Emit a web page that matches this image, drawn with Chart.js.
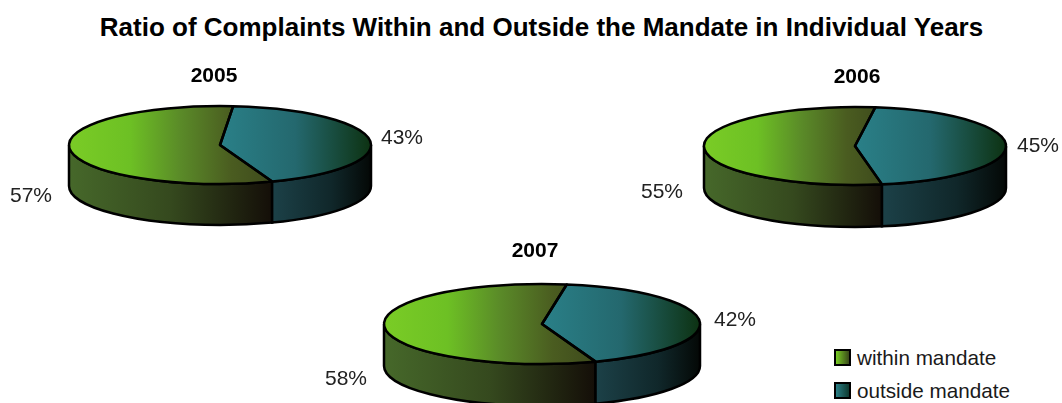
<!DOCTYPE html>
<html>
<head>
<meta charset="utf-8">
<title>Complaints within and outside the mandate</title>
<script src="https://cdn.jsdelivr.net/npm/chart.js@4/dist/chart.umd.min.js"></script>
<style>
  html, body { margin: 0; background: #fff; }
  body { position: relative; width: 1062px; height: 403px; overflow: hidden; font-family: "Liberation Sans", Arial, sans-serif; color: #000; }
  h1 { position: absolute; left: 0; top: 13px; width: 1083px; margin: 0; text-align: center; font-size: 26px; line-height: 28px; font-weight: bold; white-space: nowrap; }
  canvas { position: absolute; }
  .key { position: absolute; left: 857px; font-size: 20.7px; line-height: 24px; color: #1a1a1a; white-space: nowrap; }
  .key i { position: absolute; left: -23px; top: 3px; width: 13px; height: 13px; border: 2px solid #000; }
</style>
</head>
<body>
<h1>Ratio of Complaints Within and Outside the Mandate in Individual Years</h1>
<canvas id="pie2005" width="480" height="300"></canvas>
<canvas id="pie2006" width="480" height="300"></canvas>
<canvas id="pie2007" width="480" height="300"></canvas>
<div class="key" style="top:346px"><i style="background:linear-gradient(90deg,#78cc24,#3a4a1a)"></i>within mandate</div>
<div class="key" style="top:379px"><i style="background:linear-gradient(90deg,#2a7f86,#0e3a30)"></i>outside mandate</div>

<script>
// Data
const years = ["2005", "2006", "2007"];
const seriesNames = ["within mandate", "outside mandate"];
const withinMandate = [57, 55, 58];
const outsideMandate = [43, 45, 42];

// Pie placement on the page, all in px
const pies = [
  { cx: 220, cy: 145, rx: 151, ry: 39, depth: 41, rotation: 159.8, yearAt: [-6, -69], labelsAt: [[-189, 51], [182, -7]] },
  { cx: 855, cy: 146, rx: 151, ry: 39, depth: 42, rotation: 169.7, yearAt: [2, -69], labelsAt: [[-193, 46], [183, 0]] },
  { cx: 542, cy: 324, rx: 158, ry: 40, depth: 42, rotation: 160.2, yearAt: [-7, -73], labelsAt: [[-196, 55], [193, -4]] },
];

const CANVAS_W = 480;
const CANVAS_H = 300;

const topStops = [
  [[0, "#7acc26"], [0.3, "#6dc024"], [0.55, "#5a8a28"], [0.8, "#4a5c20"], [1, "#3e4a1c"]],
  [[0, "#2a8088"], [0.5, "#24686e"], [1, "#0d3212"]],
];
const wallStops = [
  [[0, "#46682a"], [0.5, "#35491e"], [1, "#140e08"]],
  [[0, "#1c4148"], [0.6, "#10272a"], [1, "#040806"]],
];

function makeGradient(ctx, x0, x1, stops) {
  const g = ctx.createLinearGradient(x0, 0, x1, 0);
  stops.forEach(([at, color]) => g.addColorStop(at, color));
  return g;
}

// Draws the side wall, squashes the pie faces and outlines everything afterwards
function pie3dPlugin(pie, yearIndex) {
  return {
    id: "pie3d",
    beforeDatasetsDraw(chart) {
      const ctx = chart.ctx;
      const arcs = chart.getDatasetMeta(0).data;
      const k = pie.ry / pie.rx;

      arcs.forEach((arc, i) => {
        // only the part of a slice facing the viewer has a wall
        [0, Math.PI * 2].forEach((off) => {
          const a0 = Math.max(arc.startAngle, off);
          const a1 = Math.min(arc.endAngle, off + Math.PI);
          if (a1 <= a0) return;
          const x0 = arc.x + Math.cos(a0) * pie.rx;
          const x1 = arc.x + Math.cos(a1) * pie.rx;
          ctx.beginPath();
          ctx.ellipse(arc.x, arc.y, pie.rx, pie.ry, 0, a0, a1);
          ctx.ellipse(arc.x, arc.y + pie.depth, pie.rx, pie.ry, 0, a1, a0, true);
          ctx.closePath();
          ctx.fillStyle = makeGradient(ctx, Math.min(x0, x1), Math.max(x0, x1), wallStops[i]);
          ctx.fill();
          ctx.lineWidth = 2.5;
          ctx.strokeStyle = "#000";
          ctx.stroke();
        });
      });

      ctx.save();
      ctx.translate(arcs[0].x, arcs[0].y);
      ctx.scale(1, k);
      ctx.translate(-arcs[0].x, -arcs[0].y);
    },
    afterDatasetsDraw(chart) {
      const ctx = chart.ctx;
      ctx.restore();

      chart.getDatasetMeta(0).data.forEach((arc) => {
        ctx.beginPath();
        ctx.moveTo(arc.x, arc.y);
        ctx.ellipse(arc.x, arc.y, pie.rx, pie.ry, 0, arc.startAngle, arc.endAngle);
        ctx.closePath();
        ctx.lineWidth = 2.5;
        ctx.lineJoin = "round";
        ctx.strokeStyle = "#000";
        ctx.stroke();
      });

      const cx = CANVAS_W / 2;
      const cy = CANVAS_H / 2;
      ctx.textAlign = "center";
      ctx.textBaseline = "middle";
      ctx.fillStyle = "#000";
      ctx.font = 'bold 21px "Liberation Sans", Arial, sans-serif';
      ctx.fillText(years[yearIndex], cx + pie.yearAt[0], cy + pie.yearAt[1]);

      ctx.fillStyle = "#222";
      ctx.font = '21px "Liberation Sans", Arial, sans-serif';
      chart.data.datasets[0].data.forEach((value, i) => {
        const [dx, dy] = pie.labelsAt[i];
        ctx.fillText(value + "%", cx + dx, cy + dy);
      });
    },
  };
}

// One pie chart per year
years.forEach((year, i) => {
  const pie = pies[i];
  const canvas = document.getElementById("pie" + year);
  canvas.style.left = pie.cx - CANVAS_W / 2 + "px";
  canvas.style.top = pie.cy - CANVAS_H / 2 + "px";
  const ctx = canvas.getContext("2d");
  const cx = CANVAS_W / 2;

  // green runs from the left rim to the lower slice edge, teal from the centre to the right rim
  const splitAngle = (pie.rotation * Math.PI) / 180;
  const splitX = cx + Math.sin(splitAngle) * pie.rx;

  new Chart(ctx, {
    type: "pie",
    data: {
      labels: seriesNames,
      datasets: [
        {
          data: [withinMandate[i], outsideMandate[i]],
          backgroundColor: [
            makeGradient(ctx, cx - pie.rx, splitX, topStops[0]),
            makeGradient(ctx, cx, cx + pie.rx, topStops[1]),
          ],
          borderWidth: 0,
          radius: pie.rx,
        },
      ],
    },
    options: {
      responsive: false,
      animation: false,
      rotation: pie.rotation,
      layout: { padding: 0 },
      plugins: {
        legend: { display: false },
        title: { display: false },
        tooltip: { enabled: false },
      },
    },
    plugins: [pie3dPlugin(pie, i)],
  });
});
</script>
</body>
</html>
